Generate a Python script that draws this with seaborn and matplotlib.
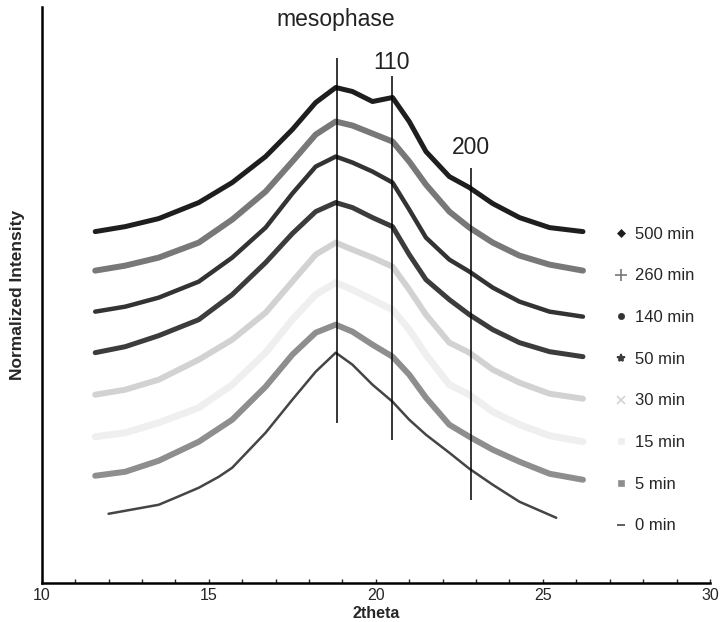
import pandas as pd
import numpy as np
import matplotlib
matplotlib.use("Agg")
import matplotlib.pyplot as plt
from matplotlib.lines import Line2D
from matplotlib.ticker import MultipleLocator
import seaborn as sns

# Kurven-Daten (beliebige Einheiten, Kurven schon versetzt)
x_common = [11.6, 12.5, 13.5, 14.7, 15.7, 16.7, 17.5, 18.2, 18.8, 19.3,
            19.9, 20.5, 21.0, 21.5, 22.2, 22.8, 23.5, 24.3, 25.2, 26.2]
y_500 = [351, 356, 364, 380, 400, 426, 453, 480, 495, 491, 481, 485, 461, 431, 406, 395, 379, 365, 355, 351]
y_260 = [312, 317, 325, 340, 363, 391, 421, 448, 461, 457, 449, 441, 421, 398, 371, 355, 340, 327, 318, 312]
y_140 = [271, 276, 285, 301, 325, 355, 389, 416, 426, 420, 411, 400, 373, 345, 323, 311, 295, 281, 271, 266]
y_50 = [230, 236, 247, 263, 288, 320, 349, 371, 380, 375, 365, 356, 328, 303, 283, 268, 253, 240, 231, 226]
y_30 = [188, 193, 203, 223, 243, 270, 301, 328, 340, 333, 325, 316, 293, 268, 240, 230, 213, 200, 189, 184]
y_15 = [146, 150, 160, 175, 198, 230, 263, 288, 300, 293, 283, 273, 253, 228, 198, 188, 171, 158, 147, 141]
y_5 = [107, 111, 122, 141, 163, 196, 228, 250, 258, 251, 238, 226, 208, 185, 158, 146, 133, 121, 109, 103]
x_0 = [12.0, 12.5, 13.5, 14.0, 14.7, 15.3, 15.7, 16.7, 17.5, 18.2, 18.8,
       19.3, 19.9, 20.5, 21.0, 21.5, 22.2, 22.8, 23.5, 24.3, 25.4]
y_0 = [69, 72, 78, 85, 95, 106, 115, 150, 183, 211, 230, 218, 198, 181, 163, 148, 130, 114, 98, 81, 65]

labels = ["500 min", "260 min", "140 min", "50 min", "30 min", "15 min", "5 min", "0 min"]

# Reflexe (Position, unteres und oberes Ende der Linie, Beschriftung)
peak_pos = [18.83, 20.47, 22.84]
peak_lo = [160, 143, 83]
peak_hi = [524, 507, 415]
peak_names = ["mesophase", "110", "200"]
peak_text_x = [18.8, 20.46, 22.85]
peak_text_y = [563, 520, 435]

# Stil pro Kurve
farben = {"500 min": "#1e1e1e", "260 min": "#787878", "140 min": "#333333", "50 min": "#3c3c3c",
          "30 min": "#d2d2d2", "15 min": "#efefef", "5 min": "#8e8e8e", "0 min": "#454545"}
breiten = {"500 min": 3.6, "260 min": 4.3, "140 min": 3.2, "50 min": 3.6,
           "30 min": 4.3, "15 min": 5.0, "5 min": 4.3, "0 min": 1.8}
marker = {"500 min": ("D", 4), "260 min": ("+", 9), "140 min": ("o", 4.5), "50 min": ("*", 6),
          "30 min": ("x", 6), "15 min": ("s", 4), "5 min": ("s", 4.5), "0 min": ("_", 6)}

# DataFrame bauen
rows = []
for lab, ys in zip(labels[:-1], [y_500, y_260, y_140, y_50, y_30, y_15, y_5]):
    for xv, yv in zip(x_common, ys):
        rows.append({"2theta": xv, "intensity": yv, "time": lab})
for xv, yv in zip(x_0, y_0):
    rows.append({"2theta": xv, "intensity": yv, "time": "0 min"})
df = pd.DataFrame(rows)

sns.set_style("white")
plt.rcParams["font.family"] = ["Liberation Sans", "DejaVu Sans"]

fig = plt.figure(figsize=(7.2, 6.22), dpi=100)
ax = fig.add_axes([0.058, 0.063, 0.928, 0.925])

sns.lineplot(data=df, x="2theta", y="intensity", hue="time", size="time",
             palette=farben, sizes=breiten, hue_order=labels, size_order=labels,
             estimator=None, sort=False, legend=False, ax=ax)

ax.vlines(peak_pos, peak_lo, peak_hi, color="black", lw=1.1)
for name, tx, ty in zip(peak_names, peak_text_x, peak_text_y):
    ax.text(tx, ty, name, ha="center", va="center", fontsize=16.5, color="#222222")

ax.set_xlim(10, 30)
ax.set_ylim(0, 575)
ax.set_yticks([])
ax.xaxis.set_major_locator(MultipleLocator(5))
ax.xaxis.set_minor_locator(MultipleLocator(1))
ax.tick_params(axis="x", which="both", direction="in", length=3, width=1, labelsize=11.5, pad=4, bottom=True)
ax.set_xlabel("2theta", fontsize=11.5, fontweight="bold", labelpad=2)
ax.set_ylabel("Normalized Intensity", fontsize=12.5, fontweight="bold", labelpad=12)
sns.despine(ax=ax)
for s in ["left", "bottom"]:
    ax.spines[s].set_linewidth(1.8)
    ax.spines[s].set_color("black")

# Legende nur mit Markern
handles = []
for lab in labels:
    m, ms = marker[lab]
    handles.append(Line2D([], [], ls="none", marker=m, markersize=ms, color=farben[lab],
                          markeredgewidth=1.2 if m in "+x*_" else 0.5))
ax.legend(handles, labels, loc="upper left", bbox_to_anchor=(0.835, 0.645), frameon=False,
          fontsize=12, labelspacing=1.6, handlelength=0.8, handletextpad=0.4)

fig.savefig("out.png", dpi=100)
